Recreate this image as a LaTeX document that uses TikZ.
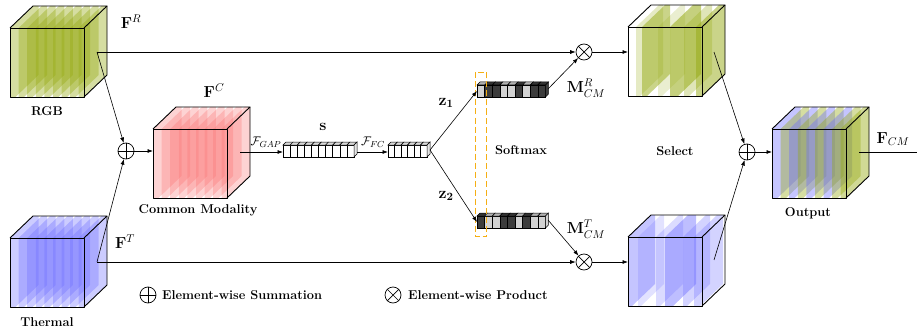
\RequirePackage{fix-cm}
\documentclass[tikz,border=0pt]{standalone}
\usepackage{amsmath}
\usetikzlibrary{arrows.meta}
\definecolor{rgbg}{RGB}{150,170,20}
\definecolor{thb}{RGB}{110,110,255}
\definecolor{cmr}{RGB}{250,110,110}
\definecolor{dcell}{RGB}{60,60,60}
\definecolor{lcell}{RGB}{210,210,210}
\definecolor{orng}{RGB}{245,175,20}
\tikzset{
  cubeline/.style={draw=black,line width=0.9pt,line join=round},
  arr/.style={-{Latex[length=5.5pt,width=4pt]},line width=0.6pt},
  plain/.style={line width=0.6pt},
  lbl/.style={font=\fontsize{12.8}{15}\selectfont\bfseries,inner sep=1pt},
  mlbl/.style={font=\fontsize{16}{18}\selectfont,inner sep=1pt},
  slbl/.style={font=\fontsize{12.5}{14}\selectfont,inner sep=1pt},
  opnode/.style={circle,draw=black,line width=0.7pt,minimum size=16pt,inner sep=0pt},
  dashline/.style={draw=orng,line width=1.3pt,dash pattern=on 6pt off 3pt},
}
% cube: X, Y (front top-left), slab list a/b/color/opacity
\newcommand\drawcube[3]{%
  \begin{scope}[shift={(#1,#2)}]
    \foreach \a/\b/\c/\o in {#3} {
      \fill[\c,fill opacity=\o] (\a,69) -- (\a,0) -- (\a+23,-22) -- (\a+\b+23,-22)
        -- (\a+\b+23,47) -- (\a+\b,69) -- cycle;
    }
    \draw[cubeline] (0,0) rectangle (74,69);
    \draw[cubeline] (0,0) -- (23,-22) -- (97,-22) -- (74,0);
    \draw[cubeline] (97,-22) -- (97,47) -- (74,69);
  \end{scope}}
% bar: X, Y, cell width, n, colors, side colour
\newcommand\cellbar[6]{%
  \begin{scope}[shift={(#1,#2)}]
    \foreach \c [count=\i from 0] in {#5} {
      \filldraw[fill=\c,draw=black,line width=0.5pt] ({\i*#3},0) rectangle ({(\i+1)*#3},12);
      \filldraw[fill=\c!85!black,draw=black,line width=0.5pt] ({\i*#3},0) -- ({\i*#3+3},-3)
        -- ({(\i+1)*#3+3},-3) -- ({(\i+1)*#3},0) -- cycle;
    }
    \filldraw[fill=#6,draw=black,line width=0.5pt] ({#4*#3},0) -- ({#4*#3+3},-3)
      -- ({#4*#3+3},9) -- ({#4*#3},12) -- cycle;
  \end{scope}}
\begin{document}
\begin{tikzpicture}[x=1pt,y=-1pt]
\useasboundingbox (0,0) rectangle (917,334);

% ---- cubes
\drawcube{10}{28}{0/5.5/rgbg/.4,8.6/5.5/rgbg/.4,17.2/5.5/rgbg/.4,25.8/5.5/rgbg/.4,34.4/5.5/rgbg/.4,43/5.5/rgbg/.4,51.6/5.5/rgbg/.4,60.2/5.5/rgbg/.4,68.5/5.5/rgbg/.4}
\drawcube{10}{238}{0/5.5/thb/.35,8.6/5.5/thb/.35,17.2/5.5/thb/.35,25.8/5.5/thb/.35,34.4/5.5/thb/.35,43/5.5/thb/.35,51.6/5.5/thb/.35,60.2/5.5/thb/.35,68.5/5.5/thb/.35}
\drawcube{153}{129}{0/5.5/cmr/.3,8.6/5.5/cmr/.3,17.2/5.5/cmr/.3,25.8/5.5/cmr/.3,34.4/5.5/cmr/.3,43/5.5/cmr/.3,51.6/5.5/cmr/.3,60.2/5.5/cmr/.3,68.5/5.5/cmr/.3}
\drawcube{628}{27}{8/4/rgbg/.25,14/5/rgbg/.5,30/4/rgbg/.2,42/8/rgbg/.55,56/5/rgbg/.3,68/6/rgbg/.5}
\drawcube{628}{237}{0/4/thb/.4,10/3/thb/.2,28/4/thb/.25,37/8/thb/.45,55/4/thb/.3,66/6/thb/.3}
\drawcube{772}{129}{0/5.5/thb/.4,8.6/5.5/rgbg/.4,17.2/5.5/thb/.4,25.8/5.5/rgbg/.4,34.4/5.5/thb/.4,43/5.5/rgbg/.4,51.6/5.5/thb/.4,60.2/5.5/rgbg/.4,68.5/5.5/rgbg/.45}

% ---- bars
\cellbar{283}{145}{7.1}{10}{white,white,white,white,white,white,white,white,white,white}{gray!20}
\cellbar{388}{145}{6.5}{6}{white,white,white,white,white,white}{gray!20}
\cellbar{477}{85}{7.6}{9}{lcell,dcell,dcell,lcell,lcell,dcell,lcell,dcell,dcell}{dcell}
\cellbar{477}{216}{7.6}{9}{dcell,lcell,lcell,dcell,dcell,lcell,dcell,lcell,lcell}{lcell}
\coordinate (boxa) at (475.5,72.5);
\coordinate (boxb) at (486.5,236.5);
\draw[dashline] (boxa) rectangle (boxb);

% ---- operators
\node[opnode] (sum1) at (126,151) {};
\node[opnode] (prod1) at (584,52) {};
\node[opnode] (prod2) at (584,262) {};
\node[opnode] (sum2) at (747,152) {};
\node[opnode] (lsum) at (148,295) {};
\node[opnode] (lprod) at (393,295) {};
\foreach \n in {sum1,sum2,lsum} {
  \draw[line width=0.7pt] (\n.north) -- (\n.south) (\n.west) -- (\n.east);
}
\foreach \n in {prod1,prod2,lprod} {
  \draw[line width=0.7pt] (\n.north west) -- (\n.south east) (\n.north east) -- (\n.south west);
}

% ---- coordinates
\coordinate (rgbpt) at (97,52);
\coordinate (thpt) at (97,262);
\coordinate (cmin) at (153,151);
\coordinate (cmout) at (240,152);
\coordinate (sin) at (283,152);
\coordinate (sout) at (357,152);
\coordinate (vin) at (388,152);
\coordinate (vout) at (430,150);
\coordinate (m1in) at (477,91);
\coordinate (m2in) at (477,222);
\coordinate (m1out) at (548,89);
\coordinate (m2out) at (548,220);
\coordinate (srin) at (628,52);
\coordinate (stin) at (628,262);
\coordinate (srpt) at (714,52);
\coordinate (stpt) at (714,260);
\coordinate (outin) at (772,152);
\coordinate (outpt) at (859,152);
\coordinate (fend) at (917,152);

% ---- connectors
\draw[arr] (rgbpt) -- (prod1);
\draw[arr] (rgbpt) -- (sum1);
\draw[arr] (thpt) -- (prod2);
\draw[arr] (thpt) -- (sum1);
\draw[arr] (sum1) -- (cmin);
\draw[arr] (cmout) -- (sin);
\draw[arr] (sout) -- (vin);
\draw[arr] (vout) -- (m1in);
\draw[arr] (vout) -- (m2in);
\draw[arr] (m1out) -- (prod1);
\draw[arr] (m2out) -- (prod2);
\draw[arr] (prod1) -- (srin);
\draw[arr] (prod2) -- (stin);
\draw[arr] (srpt) -- (sum2);
\draw[arr] (stpt) -- (sum2);
\draw[arr] (sum2) -- (outin);
\draw[plain] (outpt) -- (fend);

% ---- labels
\node[lbl] (rgblbl) at (47,111) {RGB};
\node[lbl] (thlbl) at (47,322) {Thermal};
\node[lbl] (cmlbl) at (198,210) {Common Modality};
\node[lbl] (outlbl) at (808,213) {Output};
\node[lbl] (sellbl) at (675,151) {Select};
\node[lbl] (smlbl) at (521,150) {Softmax};
\node[lbl,anchor=west] (leg1) at (161,295) {Element-wise Summation};
\node[lbl,anchor=west] (leg2) at (407,295) {Element-wise Product};
\node[mlbl] (FR) at (131,22) {$\mathbf{F}^{R}$};
\node[mlbl] (FT) at (125,242) {$\mathbf{F}^{T}$};
\node[mlbl] (FC) at (214,91) {$\mathbf{F}^{C}$};
\node[mlbl] (slbl) at (323,127) {$\mathbf{s}$};
\node[slbl] (fgap) at (266,142) {$\mathcal{F}_{GAP}$};
\node[slbl] (ffc) at (373,142) {$\mathcal{F}_{FC}$};
\node[mlbl] (z1) at (446,103) {$\mathbf{z}_{\mathbf{1}}$};
\node[mlbl] (z2) at (446,196) {$\mathbf{z}_{\mathbf{2}}$};
\node[mlbl] (MR) at (586,88) {$\mathbf{M}^{R}_{CM}$};
\node[mlbl] (MT) at (586,229) {$\mathbf{M}^{T}_{CM}$};
\node[mlbl] (FCM) at (893,139) {$\mathbf{F}_{CM}$};
\end{tikzpicture}
\end{document}
